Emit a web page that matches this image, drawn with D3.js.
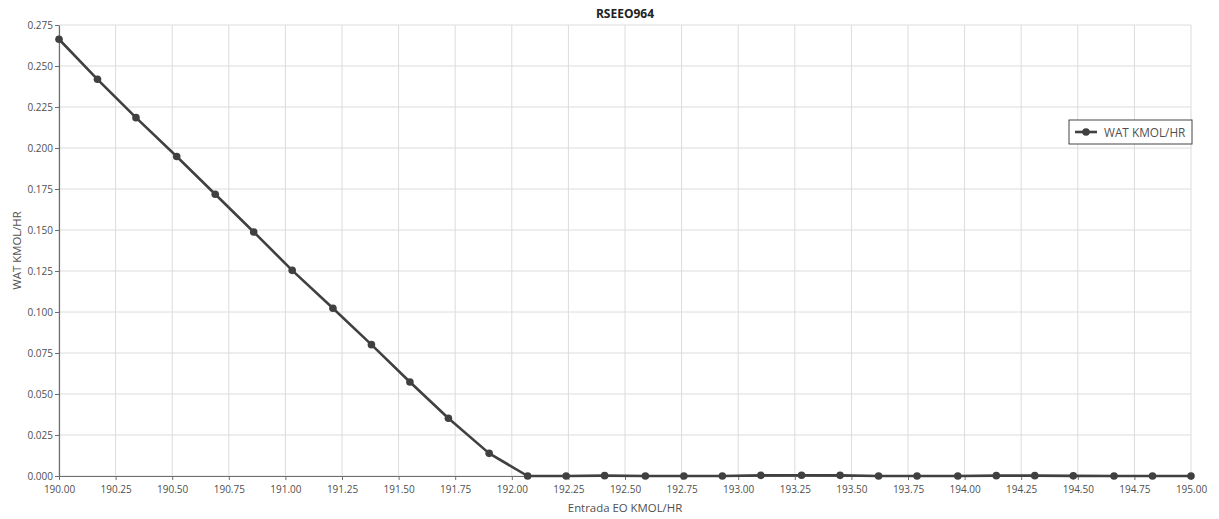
<!DOCTYPE html>
<html>
<head>
<meta charset="utf-8">
<script src="https://cdn.jsdelivr.net/npm/d3@7"></script>
<style>
  html, body { margin: 0; padding: 0; background: #fff; }
  svg { display: block; font-family: "Open Sans", "Noto Sans", sans-serif; }
</style>
</head>
<body>
<svg id="chart" width="1219" height="519"></svg>
<script>
// Feed of EO (kmol/hr) versus water leaving (kmol/hr)
const chartTitle = "RSEEO964";
const xLabel = "Entrada EO KMOL/HR";
const yLabel = "WAT KMOL/HR";
const seriesName = "WAT KMOL/HR";

const eoFeed = [190.00, 190.17, 190.34, 190.52, 190.69, 190.86, 191.03, 191.21, 191.38, 191.55,
                191.72, 191.90, 192.07, 192.24, 192.41, 192.59, 192.76, 192.93, 193.10, 193.28,
                193.45, 193.62, 193.79, 193.97, 194.14, 194.31, 194.48, 194.66, 194.83, 195.00];
const watFlow = [0.2663, 0.2419, 0.2185, 0.1948, 0.1718, 0.1488, 0.1254, 0.1023, 0.0801, 0.0573,
                 0.0352, 0.0138, 0.0000, 0.0000, 0.0002, 0.0000, 0.0000, 0.0000, 0.0004, 0.0005,
                 0.0004, 0.0000, 0.0000, 0.0000, 0.0002, 0.0002, 0.0001, 0.0000, 0.0000, 0.0000];

const xTicks = [190.00, 190.25, 190.50, 190.75, 191.00, 191.25, 191.50, 191.75, 192.00, 192.25,
                192.50, 192.75, 193.00, 193.25, 193.50, 193.75, 194.00, 194.25, 194.50, 194.75, 195.00];
const yTicks = [0.000, 0.025, 0.050, 0.075, 0.100, 0.125, 0.150, 0.175, 0.200, 0.225, 0.250, 0.275];

const svg = d3.select("#chart");
const margin = { left: 59, right: 28, top: 25, bottom: 43 };
const W = 1219, H = 519;

const x = d3.scaleLinear().domain([190, 195]).range([margin.left, W - margin.right]);
const y = d3.scaleLinear().domain([0, 0.275]).range([H - margin.bottom, margin.top]);

const gridColor = "#dcdcdc";
const axisColor = "#6e6e6e";
const textColor = "#4f4f4f";
const lineColor = "#404040";

// gridlines
svg.append("g").selectAll("line").data(xTicks).join("line")
  .attr("x1", d => x(d)).attr("x2", d => x(d))
  .attr("y1", y(0.275)).attr("y2", y(0))
  .attr("stroke", gridColor).attr("stroke-width", 1);
svg.append("g").selectAll("line").data(yTicks).join("line")
  .attr("x1", x(190)).attr("x2", x(195))
  .attr("y1", d => y(d)).attr("y2", d => y(d))
  .attr("stroke", gridColor).attr("stroke-width", 1);

// axes
const xAxis = svg.append("g")
  .attr("transform", `translate(0,${y(0)})`)
  .call(d3.axisBottom(x).tickValues(xTicks).tickFormat(d3.format(".2f")).tickSize(4).tickSizeOuter(0));
const yAxis = svg.append("g")
  .attr("transform", `translate(${x(190)},0)`)
  .call(d3.axisLeft(y).tickValues(yTicks).tickFormat(d3.format(".3f")).tickSize(4).tickSizeOuter(0));

[xAxis, yAxis].forEach(g => {
  g.selectAll(".domain").attr("stroke", axisColor).attr("stroke-width", 1.2);
  g.selectAll(".tick line").attr("stroke", axisColor);
  g.selectAll(".tick text").attr("fill", textColor).style("font-size", "10px")
    .style("font-family", '"Open Sans", "Noto Sans", sans-serif');
});
xAxis.selectAll(".tick text").attr("dy", "0.95em");
yAxis.selectAll(".tick text").attr("x", -6);

// series line and markers
const line = d3.line().x((d, i) => x(eoFeed[i])).y(d => y(d));
svg.append("path").datum(watFlow)
  .attr("d", line)
  .attr("fill", "none").attr("stroke", lineColor)
  .attr("stroke-width", 2.6).attr("stroke-linejoin", "round");
svg.append("g").selectAll("circle").data(watFlow).join("circle")
  .attr("cx", (d, i) => x(eoFeed[i])).attr("cy", d => y(d))
  .attr("r", 3.8).attr("fill", lineColor);

// titles
svg.append("text").attr("x", (x(190) + x(195)) / 2).attr("y", 18)
  .attr("text-anchor", "middle").style("font-size", "12px").style("font-weight", "bold")
  .attr("fill", "#222").text(chartTitle);
svg.append("text").attr("x", (x(190) + x(195)) / 2).attr("y", 512)
  .attr("text-anchor", "middle").style("font-size", "11.4px")
  .attr("fill", textColor).text(xLabel);
svg.append("text")
  .attr("transform", `translate(21,${(y(0) + y(0.275)) / 2}) rotate(-90)`)
  .attr("text-anchor", "middle").style("font-size", "11.4px")
  .attr("fill", textColor).text(yLabel);

// legend
const lg = svg.append("g").attr("transform", "translate(1069,120)");
lg.append("rect").attr("width", 123).attr("height", 24)
  .attr("fill", "#fff").attr("stroke", "#444").attr("stroke-width", 1);
lg.append("line").attr("x1", 6).attr("x2", 28).attr("y1", 12).attr("y2", 12)
  .attr("stroke", lineColor).attr("stroke-width", 2.6);
lg.append("circle").attr("cx", 17).attr("cy", 12).attr("r", 3.8).attr("fill", lineColor);
lg.append("text").attr("x", 35).attr("y", 16.5).style("font-size", "11.8px")
  .attr("fill", textColor).text(seriesName);
</script>
</body>
</html>
